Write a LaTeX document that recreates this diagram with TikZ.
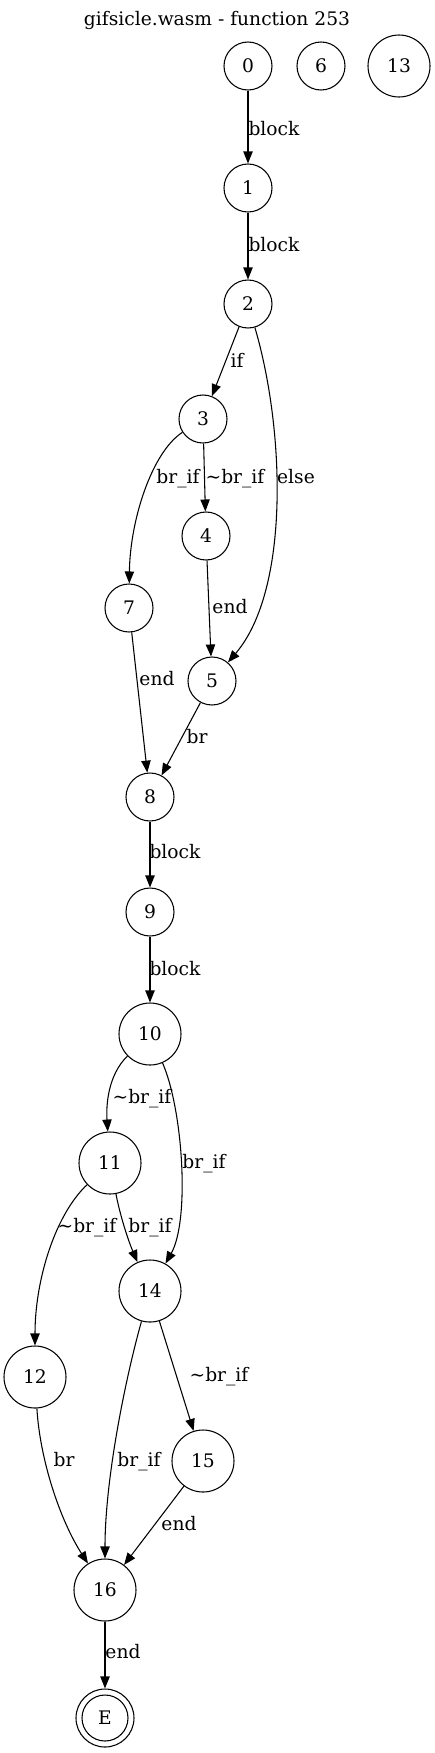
\documentclass[tikz,border=0pt]{standalone}
\usepackage{fontspec}
\setmainfont{DejaVu Serif}
\usetikzlibrary{arrows.meta}
\begin{document}
\begin{tikzpicture}[x=0.75pt,y=-0.75pt,
  txt/.style={font=\fontsize{14}{16}\selectfont},
  st/.style={txt,circle,draw,line width=0.8pt,minimum size=36pt,inner sep=0pt},
  bg/.style={st,minimum size=46.5pt},
  lab/.style={txt,inner sep=0pt,text height=10pt,text depth=3pt},
  edge/.style={draw,line width=0.8pt,-{Triangle[length=9pt,width=7pt]}}
]
\useasboundingbox (0,0) rectangle (435,1753);
\node[txt,inner sep=0pt] (title) at (217,20) {gifsicle.wasm - function 253};
% nodes
\node[st] (n0) at (248,66) {0};
\node[st] (n6) at (321,66) {6};
\node[bg] (n13) at (399,66) {13};
\node[st] (n1) at (248,188) {1};
\node[st] (n2) at (248,304) {2};
\node[st] (n3) at (203,419) {3};
\node[st] (n4) at (206,536) {4};
\node[st] (n7) at (129,608) {7};
\node[st] (n5) at (212,681) {5};
\node[st] (n8) at (150,797) {8};
\node[st] (n9) at (150,912) {9};
\node[bg] (n10) at (150,1034) {10};
\node[bg] (n11) at (110,1163) {11};
\node[bg] (n14) at (150,1291) {14};
\node[bg] (n12) at (35,1377) {12};
\node[bg] (n15) at (203,1461) {15};
\node[bg] (n16) at (105,1590) {16};
\node[st,minimum size=43.5pt] (nE) at (105,1718) {E};
\draw[line width=0.8pt] (nE.center) circle (17.25pt);
% edges
\path[edge] (n0) -- (n1);
\path[edge] (n1) -- (n2);
\path[edge] (n2) -- (n3);
\path[edge] (n2) .. controls (285,430) and (290,590) .. (n5);
\path[edge] (n3) -- (n4);
\path[edge] (n3) .. controls (152,452) and (130,520) .. (n7);
\path[edge] (n4) -- (n5);
\path[edge] (n7) -- (n8);
\path[edge] (n5) -- (n8);
\path[edge] (n8) -- (n9);
\path[edge] (n9) -- (n10);
\path[edge] (n10) .. controls (108,1075) and (106,1105) .. (n11);
\path[edge] (n10) .. controls (183,1110) and (190,1220) .. (n14);
\path[edge] (n11) .. controls (120,1215) and (128,1240) .. (n14);
\path[edge] (n11) .. controls (55,1215) and (35,1280) .. (n12);
\path[edge] (n12) .. controls (40,1460) and (60,1520) .. (n16);
\path[edge] (n14) .. controls (125,1380) and (105,1480) .. (n16);
\path[edge] (n14) -- (n15);
\path[edge] (n15) -- (n16);
\path[edge] (n16) -- (nE);
% labels
\node[lab] (l01) at (274,131) {block};
\node[lab] (l12) at (274,247) {block};
\node[lab] (l23) at (237,363) {if};
\node[lab] (l37) at (178,479) {br\_if};
\node[lab] (l34) at (235,479) {\textasciitilde br\_if};
\node[lab] (l25) at (296,479) {else};
\node[lab] (l45) at (230,609) {end};
\node[lab] (l78) at (157,681) {end};
\node[lab] (l58) at (197,739) {br};
\node[lab] (l89) at (175,854) {block};
\node[lab] (l910) at (175,971) {block};
\node[lab] (l1011) at (142,1099) {\textasciitilde br\_if};
\node[lab] (l1014) at (204,1164) {br\_if};
\node[lab] (l1112) at (87,1228) {\textasciitilde br\_if};
\node[lab] (l1114) at (150,1228) {br\_if};
\node[lab] (l1415) at (219,1377) {\textasciitilde br\_if};
\node[lab] (l1216) at (64,1462) {br};
\node[lab] (l1416) at (139,1462) {br\_if};
\node[lab] (l1516) at (179,1526) {end};
\node[lab] (l16E) at (123,1654) {end};
\end{tikzpicture}
\end{document}
